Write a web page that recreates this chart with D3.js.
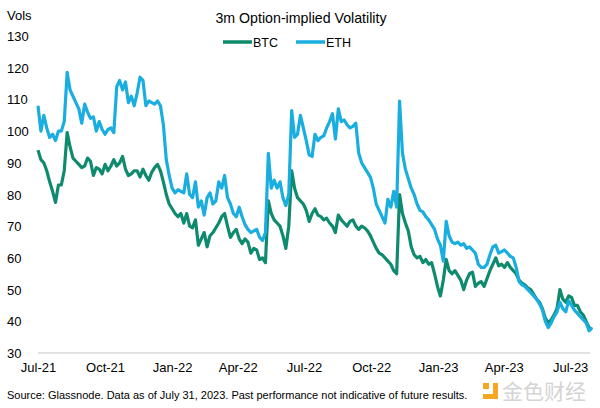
<!DOCTYPE html>
<html>
<head>
<meta charset="utf-8">
<script src="https://cdn.jsdelivr.net/npm/d3@7"></script>
<style>
  body { margin: 0; background: #fff; }
  svg { display: block; }
</style>
</head>
<body>
<div id="chart"></div>
<script>
// 3m option-implied volatility, sampled every 4 days from 1 Jul 2021
const startDate = '2021-07-01';
const stepDays = 4;

const btcVols = [
  94, 91, 90, 87.5, 84, 81, 77.5, 83, 83, 87.5,
  99.5, 95, 91.5, 90.5, 89.5, 88.5, 89, 91.5, 90.5, 86,
  88.5, 88, 86.5, 89.5, 87.5, 89, 91, 89, 90, 92,
  88, 86, 86.5, 87.5, 87.5, 85.5, 88, 86, 84.5, 87,
  88.5, 89.5, 87.5, 84, 80, 77, 75.5, 74, 73, 74,
  71, 74, 70, 69.5, 72, 64, 66, 68, 63.5, 67,
  68, 69.5, 71, 73, 74, 70, 66.5, 68, 69, 66,
  64.5, 66, 65, 61.5, 63, 62.5, 59.5, 60, 58.5, 78,
  74, 72, 71, 70, 67, 63, 70, 87.5, 82, 79,
  78, 77, 75, 71.5, 74, 75.5, 73.5, 73, 72, 72.5,
  71, 70, 68, 73.5, 72, 71, 70, 71.5, 72, 70,
  69, 70, 69.5, 68.5, 67, 65, 63, 61.5, 61, 60,
  59, 58, 56, 55, 80, 74, 71, 68.5, 63.5, 61,
  60, 60.5, 58.5, 59.5, 58, 58.5, 55, 51, 48, 53,
  59.5, 56, 55, 56, 54.5, 53, 50, 53, 55, 55.5,
  51, 52, 52.5, 51, 53.5, 56, 58, 60, 57.5, 58,
  57, 58.5, 57, 56, 55, 53, 52, 51.5, 50.5, 50,
  48.5, 47, 46, 44, 41, 39.5, 40.5, 42, 44, 50,
  47, 46, 48, 47.5, 45, 45, 43, 42, 40, 38,
  37.5
];

const ethVols = [
  108, 100, 105, 101, 98, 99, 97, 100, 100, 103,
  118.5, 113, 111, 109, 107, 102.5, 108.5, 106, 104, 104.5,
  100, 103, 100.5, 99, 100.5, 101, 99.5, 114, 116, 113,
  115.5, 109, 111, 108, 112, 117, 116, 108, 109.5, 109,
  108.5, 109.5, 108, 102, 91, 86, 82, 80.5, 81.5, 81,
  80.5, 86.5, 80, 79, 84, 76, 78, 73.5, 79, 80.5,
  77, 78, 84, 82, 86, 79, 77, 74, 73, 76,
  73, 70.5, 69, 68, 68.5, 69, 66.5, 65.5, 68, 93,
  82, 84.5, 82, 84, 79, 76.5, 80, 106.5, 98, 99,
  105, 101, 97, 92.5, 92, 99, 97, 98, 98.5, 101,
  103, 105.5, 97.5, 107, 103, 103.5, 102, 101, 101.5, 102.5,
  93, 90, 88.5, 87, 85.5, 82, 77, 75, 73, 71,
  78.5, 76, 81, 76, 109.5, 93, 88, 85, 82, 80,
  77, 75, 74.5, 73, 72, 70.5, 69, 66, 64, 59,
  71.5, 67, 65, 64.5, 65, 64, 64.5, 63, 63.5, 62.5,
  61.5, 58, 57, 57, 58, 61, 63.5, 64, 61.5, 62,
  62.5, 61.5, 60.5, 60, 57, 52.5, 51.5, 51, 50, 49,
  48, 47, 45.5, 43.5, 40, 38, 39.5, 41.5, 43, 46,
  44, 43, 46.5, 45, 43.5, 42.5, 41.5, 40.5, 39.5, 37,
  38
];

const yTicks = [30, 40, 50, 60, 70, 80, 90, 100, 110, 120, 130];
const xTickDates = ['2021-07-01', '2021-10-01', '2022-01-01', '2022-04-01', '2022-07-01',
  '2022-10-01', '2023-01-01', '2023-04-01', '2023-07-01'];
const seriesNames = ['BTC', 'ETH'];
const seriesColors = ['#0e8a6e', '#1aaee0'];

const width = 600, height = 408;
const margin = { top: 36, right: 8, bottom: 55, left: 38 };
const font = "'Liberation Sans', Arial, sans-serif";

const parse = d3.timeParse('%Y-%m-%d');
const dates = btcVols.map((d, i) => d3.timeDay.offset(parse(startDate), i * stepDays));

const svg = d3.select('#chart').append('svg')
    .attr('width', width)
    .attr('height', height);

const x = d3.scaleTime()
    .domain([parse('2021-07-01'), parse('2023-07-31')])
    .range([margin.left, width - margin.right]);

const y = d3.scaleLinear()
    .domain([30, 130])
    .range([height - margin.bottom, margin.top]);

// y labels, left aligned, no axis line
svg.append('g')
    .selectAll('text')
    .data(yTicks)
    .enter()
    .append('text')
    .attr('x', 7)
    .attr('y', d => y(d) + 5)
    .style('font-family', font)
    .style('font-size', '13px')
    .attr('fill', '#000')
    .text(d => d);

svg.append('text')
    .attr('x', 7)
    .attr('y', 20)
    .style('font-family', font)
    .style('font-size', '13px')
    .text('Vols');

// baseline
svg.append('line')
    .attr('x1', x.range()[0])
    .attr('x2', x.range()[1] - 2)
    .attr('y1', y(30))
    .attr('y2', y(30))
    .attr('stroke', '#d9d9d9')
    .attr('stroke-width', 1.5);

const xAxis = d3.axisBottom(x)
    .tickValues(xTickDates.map(parse))
    .tickFormat(d3.timeFormat('%b-%y'))
    .tickSize(0)
    .tickPadding(10);

svg.append('g')
    .attr('transform', `translate(0,${y(30)})`)
    .call(xAxis)
    .call(g => g.select('.domain').remove())
    .selectAll('text')
    .style('font-family', font)
    .style('font-size', '13px')
    .attr('fill', '#000');

// lines
const line = d3.line()
    .x((d, i) => x(dates[i]))
    .y(d => y(d));

[btcVols, ethVols].forEach((vals, i) => {
    svg.append('path')
        .datum(vals)
        .attr('d', line)
        .attr('fill', 'none')
        .attr('stroke', seriesColors[i])
        .attr('stroke-width', 3.2)
        .attr('stroke-linejoin', 'round');
});

// title
svg.append('text')
    .attr('x', 301)
    .attr('y', 23)
    .attr('text-anchor', 'middle')
    .style('font-family', font)
    .style('font-size', '14.2px')
    .text('3m Option-implied Volatility');

// legend
const legendX = [223, 296];
seriesNames.forEach((name, i) => {
    svg.append('line')
        .attr('x1', legendX[i])
        .attr('x2', legendX[i] + 29)
        .attr('y1', 42)
        .attr('y2', 42)
        .attr('stroke', seriesColors[i])
        .attr('stroke-width', 3.5);
    svg.append('text')
        .attr('x', legendX[i] + 30)
        .attr('y', 46.5)
        .style('font-family', font)
        .style('font-size', '12.5px')
        .text(name);
});

// source note
svg.append('text')
    .attr('x', 7)
    .attr('y', 399)
    .style('font-family', font)
    .style('font-size', '11px')
    .text('Source: Glassnode. Data as of July 31, 2023. Past performance not indicative of future results.');

// watermark
const wm = svg.append('g').attr('transform', 'translate(483,383)');
wm.append('rect').attr('x', 0).attr('y', 0).attr('width', 6).attr('height', 6).attr('fill', '#f5a623');
wm.append('path').attr('d', 'M10,0 h5 v16 h-15 v-5 h10 z').attr('fill', '#f5a623');
svg.append('text')
    .attr('x', 502)
    .attr('y', 399)
    .style('font-family', "'Noto Sans CJK SC', sans-serif")
    .style('font-size', '21px')
    .attr('fill', '#d4d4d4')
    .text('金色财经');
</script>
</body>
</html>
